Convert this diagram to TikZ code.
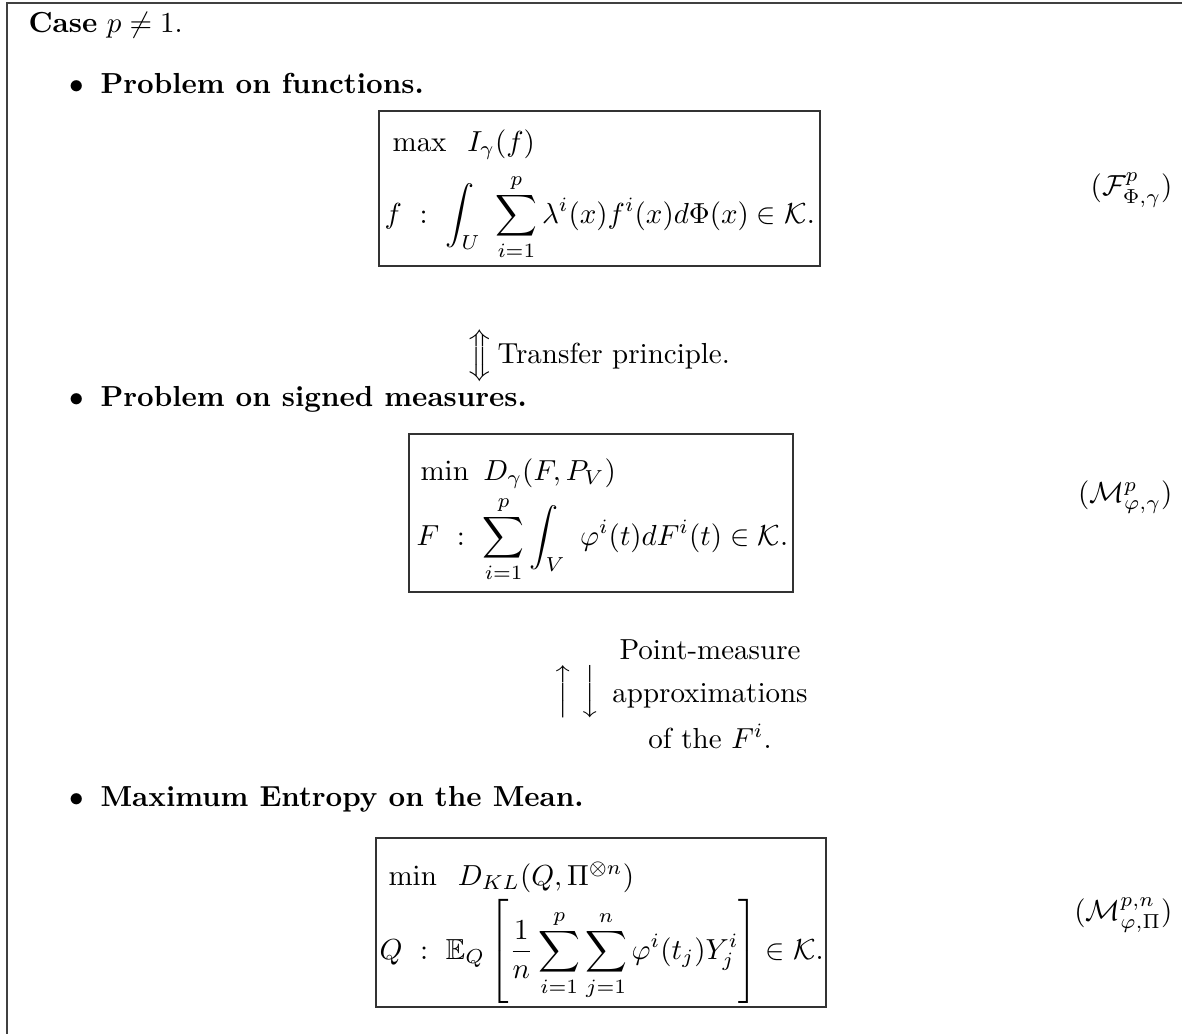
\documentclass[tikz,border=0pt]{standalone}
\usepackage{amsmath,amssymb}
\usetikzlibrary{fit}
\begin{document}
\begin{tikzpicture}[x={(0.345pt,0)},y={(0,-0.345pt)},
  framepen/.style={line width=0.6pt,draw=black!75},
  probbox/.style={draw=black!80,line width=0.5pt,inner sep=0pt},
  txt/.style={inner sep=0pt,anchor=base west},
  ctxt/.style={inner sep=0pt,anchor=base},
  eqlab/.style={inner sep=0pt,anchor=east}]
\useasboundingbox (0,0) rectangle (1182,1034);
% frame
\coordinate (ftl) at (7,3);
\coordinate (ftr) at (1182,3);
\coordinate (fbl) at (7,1034);
\draw[framepen] (ftr) -- (ftl) -- (fbl);
% heading
\node[txt] (case) at (28,32) {\textbf{Case} $p\neq 1$.};
% item 1
\node[ctxt] (bul1) at (77,93) {$\bullet$};
\node[txt] (t1) at (100,93) {\textbf{Problem on functions.}};
\node[probbox,fit={(379,111) (820,266)}] (box1) {};
\node[txt] (l11) at (392,151) {$\max\;\;I_\gamma(f)$};
\node[txt] (l12) at (384,223) {$\displaystyle f\ :\ \int_U\ \sum_{i=1}^p\lambda^i(x)f^i(x)d\Phi(x)\in\mathcal{K}.$};
\node[eqlab] (lab1) at (1173,190) {$(\mathcal{F}^p_{\Phi,\gamma})$};
% transfer
\node[inner sep=0pt] (arr1) at (480,356) {$\Big\Updownarrow$};
\node[txt] (tr) at (497,363) {Transfer principle.};
% item 2
\node[ctxt] (bul2) at (77,406) {$\bullet$};
\node[txt] (t2) at (100,406) {\textbf{Problem on signed measures.}};
\node[probbox,fit={(409,434) (793,592)}] (box2) {};
\node[txt] (l21) at (420,480) {$\min\ D_\gamma(F,P_V)$};
\node[txt] (l22) at (416,545) {$\displaystyle F\ :\ \sum_{i=1}^p\int_V\ \varphi^i(t)dF^i(t)\in\mathcal{K}.$};
\node[eqlab] (lab2) at (1173,497) {$(\mathcal{M}^p_{\varphi,\gamma})$};
% approximation arrows
\node[inner sep=0pt] (up) at (563,692) {$\Big\uparrow$};
\node[inner sep=0pt] (down) at (590,692) {$\Big\downarrow$};
\node[ctxt] (pm1) at (710,659) {Point-measure};
\node[ctxt] (pm2) at (710,702) {approximations};
\node[ctxt] (pm3) at (710,748) {of the $F^i$.};
% item 3
\node[ctxt] (bul3) at (77,806) {$\bullet$};
\node[txt] (t3) at (100,806) {\textbf{Maximum Entropy on the Mean.}};
\node[probbox,fit={(376,838) (826,1007)}] (box3) {};
\node[txt] (l31) at (388,885) {$\min\;\;D_{KL}(Q,\Pi^{\otimes n})$};
\node[txt] (l32) at (379,959) {$\displaystyle Q\ :\ \mathbb{E}_Q\left[\frac{1}{n}\sum_{i=1}^p\sum_{j=1}^n\varphi^i(t_j)Y^i_j\right]\in\mathcal{K}.$};
\node[eqlab] (lab3) at (1173,915) {$(\mathcal{M}^{p,n}_{\varphi,\Pi})$};
\end{tikzpicture}
\end{document}
